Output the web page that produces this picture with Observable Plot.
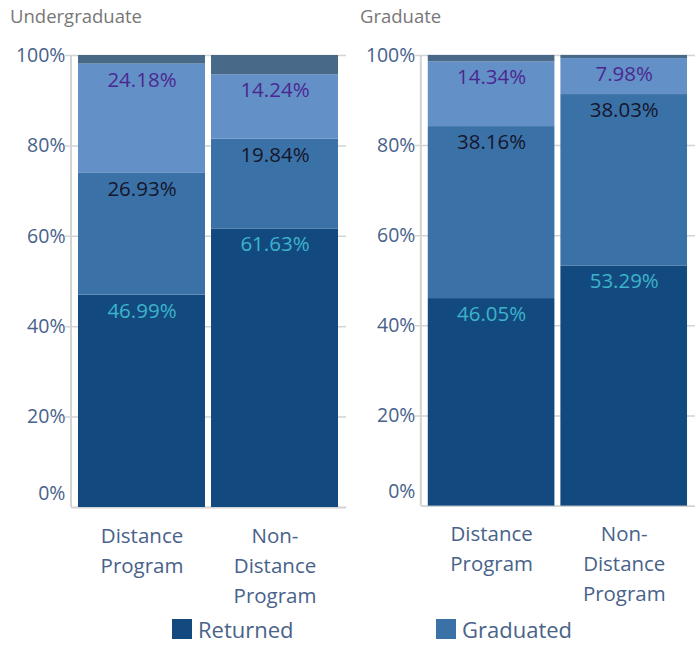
<!DOCTYPE html>
<html>
<head>
<meta charset="utf-8">
<script src="https://cdn.jsdelivr.net/npm/d3@7"></script>
<script src="https://cdn.jsdelivr.net/npm/@observablehq/plot@0.6"></script>
<style>
  html, body { margin: 0; padding: 0; background: #fff; }
  #root { position: relative; width: 699px; height: 646px; font-family: "Open Sans", "Noto Sans", sans-serif; overflow: hidden; }
  .title { position: absolute; top: 3px; font-size: 18.5px; color: #777; }
  .panel { position: absolute; top: 30px; }
  .panel svg { display: block; }
  .leg { position: absolute; top: 617px; display: flex; align-items: center; font-size: 22px; color: #4a6388; line-height: 24px; }
  .sw { width: 20px; height: 20px; margin-right: 6px; }
</style>
</head>
<body>
<div id="root"></div>
<script>
// ---- data ----
const groups = ["Undergraduate", "Graduate"];
const programs = ["Distance Program", "Non-Distance Program"];
const programLabels = ["Distance\nProgram", "Non-\nDistance\nProgram"];
const series = ["Returned", "Graduated", "Transferred", "Other"];
const legendSeries = ["Returned", "Graduated"];
// values per group: [program][series]
const undergraduate = [
  [46.99, 26.93, 24.18, 1.90],
  [61.63, 19.84, 14.24, 4.29]
];
const graduate = [
  [46.05, 38.16, 14.34, 1.45],
  [53.29, 38.03, 7.98, 0.70]
];
const yTicks = [0, 20, 40, 60, 80, 100];
const barColors = ["#124a80", "#3a72a8", "#6391c7", "#486a88"];
const labelColors = ["#3db3c9", "#15152b", "#4b2891", null];

const root = document.getElementById("root");

function panel(name, values, left) {
  const t = document.createElement("div");
  t.className = "title";
  t.style.left = (left + 10) + "px";
  t.textContent = name;
  root.appendChild(t);

  const data = [];
  programs.forEach((p, i) => series.forEach((s, j) => data.push({program: p, series: s, value: values[i][j], idx: j})));

  const axisLine = (index, scales, vals, dims) =>
    d3.create("svg:line")
      .attr("x1", dims.marginLeft).attr("x2", dims.marginLeft)
      .attr("y1", dims.marginTop).attr("y2", dims.height - dims.marginBottom)
      .attr("stroke", "#d3d3d3").attr("stroke-width", 2).node();

  const chart = Plot.plot({
    width: 350,
    height: 586,
    marginLeft: 71,
    marginRight: 4,
    marginTop: 25,
    marginBottom: 109,
    style: {fontFamily: "'Open Sans', 'Noto Sans', sans-serif", background: "#fff"},
    x: {domain: programs, paddingInner: 0.045, paddingOuter: 0.053, label: null},
    y: {domain: [0, 100], label: null},
    color: {type: "identity"},
    marks: [
      Plot.ruleY(yTicks.slice(1), {y: d => d, stroke: "#d3d3d3", strokeWidth: 1.5, insetLeft: -6}),
      Plot.ruleY([0], {stroke: "#d3d3d3", strokeWidth: 2}),
      axisLine,
      Plot.barY(data, {x: "program", y: "value", z: "series", fill: d => barColors[d.idx]}),
      Plot.text(data, Plot.stackY2({
        x: "program", y: "value", z: "series",
        text: d => labelColors[d.idx] ? d.value.toFixed(2) + "%" : null,
        fill: d => labelColors[d.idx] || "none",
        dy: 16, fontSize: 20.5
      })),
      Plot.axisY(yTicks.slice(1), {tickSize: 0, tickPadding: 6, fontSize: 19.5, fill: "#48628a", tickFormat: d => d + "%", label: null}),
      Plot.axisY([0], {tickSize: 0, tickPadding: 6, fontSize: 19.5, fill: "#48628a", tickFormat: d => d + "%", dy: -14, label: null}),
      Plot.axisX({tickSize: 0, tickPadding: 14, fontSize: 20.5, lineHeight: 1.46, fill: "#48628a",
        tickFormat: d => programLabels[programs.indexOf(d)], label: null})
    ]
  });
  const wrap = document.createElement("div");
  wrap.className = "panel";
  wrap.style.left = left + "px";
  wrap.appendChild(chart);
  root.appendChild(wrap);
}

panel(groups[0], undergraduate, 0);
panel(groups[1], graduate, 350);

const legendLeft = [172, 436];
legendSeries.forEach((s, i) => {
  const d = document.createElement("div");
  d.className = "leg";
  d.style.left = legendLeft[i] + "px";
  const sw = document.createElement("div");
  sw.className = "sw";
  sw.style.background = barColors[series.indexOf(s)];
  const tx = document.createElement("span");
  tx.textContent = s;
  d.appendChild(sw); d.appendChild(tx);
  root.appendChild(d);
});
</script>
</body>
</html>
